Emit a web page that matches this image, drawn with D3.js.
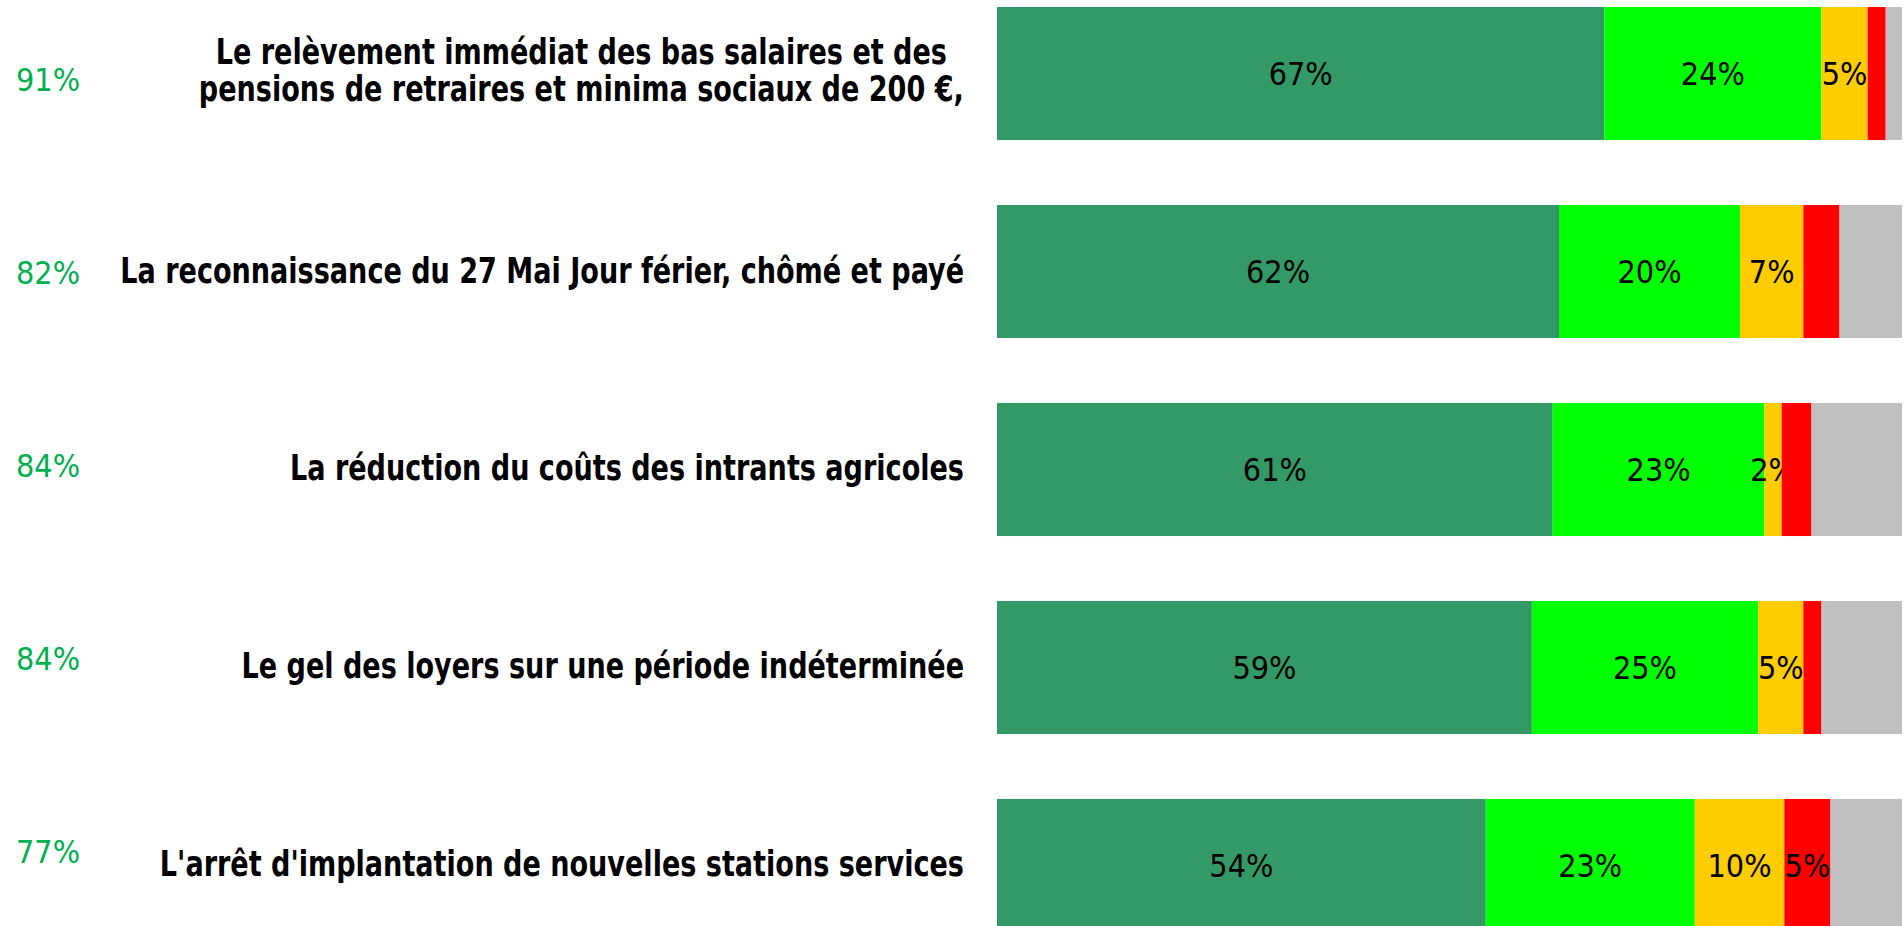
<!DOCTYPE html>
<html>
<head>
<meta charset="utf-8">
<script src="https://cdn.jsdelivr.net/npm/d3@7"></script>
<style>
  body { margin: 0; background: #ffffff; }
</style>
</head>
<body>
<div id="chart"></div>
<script>
// questions (first one is wrapped on two lines)
var questions = [
  ["Le relèvement immédiat des bas salaires et des", "pensions de retraires et minima sociaux de 200 €,"],
  ["La reconnaissance du 27 Mai Jour férier, chômé et payé"],
  ["La réduction du coûts des intrants agricoles"],
  ["Le gel des loyers sur une période indéterminée"],
  ["L'arrêt d'implantation de nouvelles stations services"]
];

// shares per answer, in %
var tresFavorable  = [67.1, 62.1, 61.4, 59.1, 54.0];
var favorable      = [24.0, 20.0, 23.4, 25.0, 23.1];
var defavorable    = [5.1, 7.0, 1.9, 5.0, 9.9];
var tresDefavorable = [2.0, 4.0, 3.3, 2.0, 5.1];
var sansAvis       = [1.8, 6.9, 10.0, 8.9, 7.9];

// total favourable shown on the left
var totalFavorable = [91, 82, 84, 84, 77];

var seriesNames = ["tresFavorable", "favorable", "defavorable", "tresDefavorable", "sansAvis"];
var colors = ["#339966", "#00ff00", "#ffcc00", "#ff0000", "#c0c0c0"];

var width = 1904, height = 926;

var svg = d3.select("#chart").append("svg")
  .attr("width", width)
  .attr("height", height);

var rows = questions.map(function(q, i) {
  return {
    idx: i,
    tresFavorable: tresFavorable[i],
    favorable: favorable[i],
    defavorable: defavorable[i],
    tresDefavorable: tresDefavorable[i],
    sansAvis: sansAvis[i]
  };
});

var stacked = d3.stack().keys(seriesNames)(rows);

var x = d3.scaleLinear().domain([0, 100]).range([997, 1902]);
var y = d3.scaleBand()
  .domain(d3.range(questions.length))
  .range([7, 932])
  .paddingInner(0.328)
  .paddingOuter(0);

// the green totals are not quite on the bar rows
var yTot = d3.scalePoint().domain(d3.range(questions.length)).range([79, 851]);

/* bars */
var layers = svg.selectAll("g.layer")
  .data(stacked)
  .enter()
  .append("g")
  .attr("class", "layer")
  .attr("fill", function(d, i) { return colors[i]; });

layers.selectAll("rect")
  .data(function(d) { return d; })
  .enter()
  .append("rect")
  .attr("x", function(d) { return x(d[0]); })
  .attr("width", function(d) { return x(d[1]) - x(d[0]); })
  .attr("y", function(d) { return y(d.data.idx); })
  .attr("height", y.bandwidth());

/* values inside bars */
layers.each(function(layer, li) {
  d3.select(this).selectAll("text")
    .data(layer.filter(function(d) {
      var v = d[1] - d[0];
      return li < 3 || (li === 3 && v >= 5);
    }))
    .enter()
    .append("text")
    .attr("x", function(d) { return (x(d[0]) + x(d[1])) / 2; })
    .attr("y", function(d) { return y(d.data.idx) + y.bandwidth() / 2 + 11.5; })
    .attr("text-anchor", "middle")
    .attr("font-family", "'DejaVu Sans Condensed', 'DejaVu Sans', sans-serif")
    .attr("font-size", 32)
    .attr("fill", "#000")
    .text(function(d) { return Math.round(d[1] - d[0]) + "%"; });
});

/* question labels - narrow bold, squeezed horizontally */
var labelRight = 964;
var lineGap = 37;
var squeeze = 0.86;

var labels = svg.selectAll("g.question")
  .data(questions)
  .enter()
  .append("g")
  .attr("class", "question");

labels.each(function(lines, i) {
  var g = d3.select(this);
  var cy = y(i) + y.bandwidth() / 2 + (lines.length == 1 ? 11 : 9);
  var first = cy - (lines.length - 1) * lineGap / 2;
  var t = g.append("text")
    .attr("font-family", "'DejaVu Sans Condensed', 'DejaVu Sans', sans-serif")
    .attr("font-weight", "bold")
    .attr("font-size", 35)
    .attr("fill", "#000");
  var spans = t.selectAll("tspan")
    .data(lines)
    .enter()
    .append("tspan")
    .attr("x", 0)
    .attr("y", function(d, j) { return first + j * lineGap; })
    .text(function(d) { return d; });
  if (lines.length == 1) {
    t.attr("text-anchor", "end");
    g.attr("transform", "translate(" + labelRight + ",0) scale(" + squeeze + ",1)");
  } else {
    // wrapped text is centred inside its block
    var w = 0;
    spans.each(function() { w = Math.max(w, this.getComputedTextLength()); });
    t.attr("text-anchor", "middle");
    g.attr("transform", "translate(" + (labelRight - w * squeeze / 2) + ",0) scale(" + squeeze + ",1)");
  }
});

/* totals on the left */
svg.selectAll("text.total")
  .data(totalFavorable)
  .enter()
  .append("text")
  .attr("class", "total")
  .attr("x", 16)
  .attr("y", function(d, i) { return yTot(i) + 12; })
  .attr("font-family", "'DejaVu Sans Condensed', 'DejaVu Sans', sans-serif")
  .attr("font-size", 32)
  .attr("fill", "#00b050")
  .text(function(d) { return d + "%"; });
</script>
</body>
</html>
